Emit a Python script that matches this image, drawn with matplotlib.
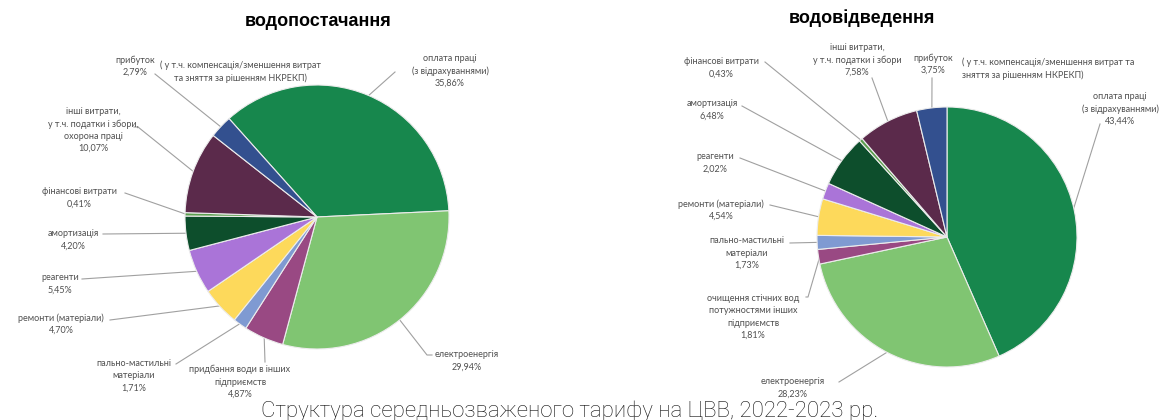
import numpy as np
import matplotlib.pyplot as plt

W, H = 1170, 420
plt.rcParams['font.family'] = ['Lato', 'DejaVu Sans']

# водопостачання
supply_labels = ['оплата праці\n(з відрахуваннями)', 'електроенергія',
                 'придбання води в інших\nпідприємств', 'пально-мастильні\nматеріали',
                 'ремонти (матеріали)', 'реагенти', 'амортизація', 'фінансові витрати',
                 'інші витрати,\nу т.ч. податки і збори,\nохорона праці', 'прибуток']
supply_values = [35.86, 29.94, 4.87, 1.71, 4.70, 5.45, 4.20, 0.41, 10.07, 2.79]

# водовідведення
drain_labels = ['оплата праці\n(з відрахуваннями)', 'електроенергія',
                'очищення стічних вод\nпотужностями інших\nпідприємств',
                'пально-мастильні\nматеріали', 'ремонти (матеріали)', 'реагенти',
                'амортизація', 'фінансові витрати',
                'інші витрати,\nу т.ч. податки і збори', 'прибуток']
drain_values = [43.44, 28.23, 1.81, 1.73, 4.54, 2.02, 6.48, 0.43, 7.58, 3.75]

colors = ['#17874d', '#80c572', '#994983', '#7f9ad2', '#fdd95b',
          '#aa74d8', '#0d4e2c', '#5b9f4f', '#5b2a4b', '#33508f']

note_left = '( у т.ч. компенсація/зменшення витрат\nта зняття за рішенням НКРЕКП)'
note_right = '( у т.ч. компенсація/зменшення витрат та\nзняття за рішенням НКРЕКП)'

# text centre (x, y), start of the leader line, optional elbow
supply_pos = [((450, 71), (395, 72), None),
              ((467, 361), (432, 355), (427, 355)),
              ((240, 382), (265, 362), None),
              ((134, 376), (176, 364), None),
              ((61, 324), (110, 320), None),
              ((60, 284), (82, 279), None),
              ((73, 240), (103, 234), None),
              ((79, 198), (125, 193), None),
              ((93, 130), (134, 127), (138, 127)),
              ((135, 66), (155, 74), None)]
drain_pos = [((1120, 109), (1100, 124), None),
             ((793, 388), (839, 382), None),
             ((753, 317), (806, 297), (808, 297)),
             ((747, 253), (790, 243), None),
             ((721, 210), (770, 205), None),
             ((715, 163), (740, 158), None),
             ((712, 110), (742, 106), None),
             ((721, 68), (765, 62), None),
             ((857, 60), (872, 78), None),
             ((933, 64), (932, 78), None)]

fig = plt.figure(figsize=(W / 100, H / 100), dpi=100)
ax = fig.add_axes([0, 0, 1, 1])

txt_col = '#505050'
line_col = '#a0a0a0'


def draw_pie(center, radius, start, labels, values, pos):
    # y axis runs downward, so counterclock=True draws clockwise on screen
    wedges, _ = ax.pie(values, colors=colors, center=center, radius=radius,
                       startangle=-start, counterclock=True,
                       wedgeprops=dict(edgecolor='#ececec', linewidth=0.8))
    for w, lab, val, (tp, ls, elbow) in zip(wedges, labels, values, pos):
        mid = np.deg2rad((w.theta1 + w.theta2) / 2)
        px = center[0] + radius * 0.99 * np.cos(mid)
        py = center[1] + radius * 0.99 * np.sin(mid)
        xs, ys = [ls[0]], [ls[1]]
        if elbow:
            xs.append(elbow[0])
            ys.append(elbow[1])
        xs.append(px)
        ys.append(py)
        ax.plot(xs, ys, color=line_col, lw=0.8, zorder=0)
        s = lab + '\n' + f'{val:.2f}%'.replace('.', ',')
        ax.text(tp[0], tp[1], s, ha='center', va='center', fontsize=6.5,
                color=txt_col, linespacing=1.45)


draw_pie((317, 217), 132, 131.8, supply_labels, supply_values, supply_pos)
draw_pie((947, 237), 130, 90, drain_labels, drain_values, drain_pos)

ax.text(240, 72, note_left, ha='center', va='center', fontsize=6.5,
        color=txt_col, linespacing=1.45)
ax.text(962, 69, note_right, ha='left', va='center', fontsize=6.5,
        color=txt_col, linespacing=1.45)

ax.text(318, 22, 'водопостачання', ha='center', va='center', fontsize=13,
        fontweight='bold', family='Liberation Sans')
ax.text(862, 18, 'водовідведення', ha='center', va='center', fontsize=13,
        fontweight='bold', family='Liberation Sans')
ax.text(570, 417, 'Структура середньозваженого тарифу на ЦВВ, 2022-2023 рр.',
        ha='center', va='baseline', fontsize=16, fontweight='light',
        family='Roboto', color='#111111')

ax.set_xlim(0, W)
ax.set_ylim(H, 0)
ax.set_aspect('equal')
ax.axis('off')

fig.savefig('out.png', dpi=100)
